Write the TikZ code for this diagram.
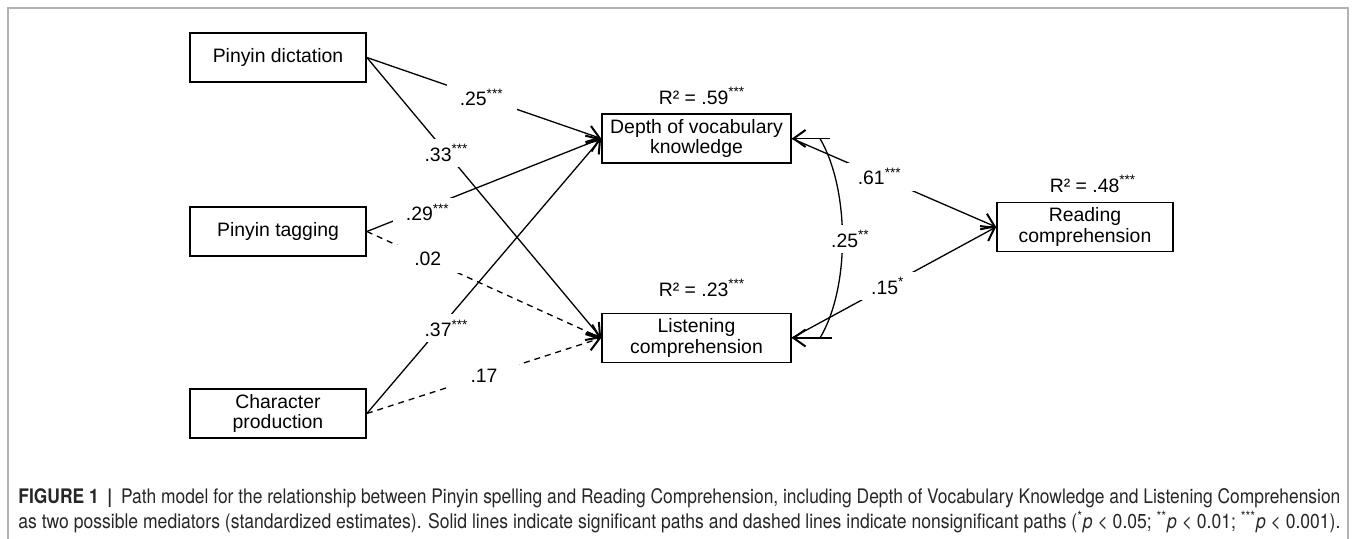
\documentclass[tikz,border=0pt]{standalone}
\usepackage{fontspec}
\setmainfont{Liberation Sans}
\newfontfamily\capfont{TeX Gyre Heros}
\usetikzlibrary{arrows.meta}
\newcommand{\nfont}{\fontsize{9.7}{10.4}\selectfont}
\newcommand{\st}[1]{\textsuperscript{#1}}
\begin{document}
\begin{tikzpicture}[x=0.5pt,y=-0.5pt,
  box/.style={draw, line width=0.85pt, minimum width=88pt, minimum height=24.5pt, inner sep=0pt, align=center, font=\nfont},
  wbox/.style={box, minimum width=94.5pt},
  lab/.style={fill=white, inner sep=0pt, minimum width=35pt, minimum height=14pt, font=\nfont},
  rlab/.style={inner sep=0pt, font=\nfont},
  arr/.style={line width=0.65pt, -{Straight Barb[length=6pt,width=8.5pt,line width=1pt]}},
  darr/.style={arr, dash pattern=on 3pt off 2.5pt},
  plain/.style={line width=0.65pt}]
\useasboundingbox (0,0) rectangle (1357,539);
% frame
\draw[gray!60, line width=0.6pt] (8,539) -- (8,8) -- (1348,8) -- (1348,539);
% boxes
\node[box] (dict) at (278,57.5) {Pinyin dictation};
\node[box] (tag) at (278,231.5) {Pinyin tagging};
\node[box] (char) at (278,413.5) {Character\\production};
\node[wbox] (dep) at (696.5,138.5) {Depth of vocabulary\\knowledge};
\node[wbox] (lis) at (696.5,338) {Listening\\comprehension};
\node[box] (read) at (1085,227) {Reading\\comprehension};
% R2 labels
\node[rlab] (r1) at (702,96) {R² = .59\st{***}};
\node[rlab] (r2) at (702,288) {R² = .23\st{***}};
\node[rlab] (r3) at (1093,184) {R² = .48\st{***}};
% paths
\draw[arr] (dict.east) -- (dep.west) node[lab, pos=0.49] {.25\st{***}};
\draw[arr] (dict.east) -- (lis.west) node[lab, pos=0.34] {.33\st{***}};
\draw[arr] (tag.east) -- (dep.west) node[lab, pos=0.26, yshift=-2.5pt] {.29\st{***}};
\draw[darr] (tag.east) -- (lis.west) node[lab, pos=0.26] {.02};
\draw[arr] (char.east) -- (dep.west) node[lab, pos=0.31, xshift=3.5pt] {.37\st{***}};
\draw[darr] (char.east) -- (lis.west) node[lab, pos=0.5] {.17};
\draw[arr] (dep.east) -- (read.west) node[lab, pos=0.43] {.61\st{***}};
\draw[arr] (lis.east) -- (read.west) node[lab, pos=0.47] {.15\st{*}};
% covariance
\coordinate (ct) at (830,138.5);
\coordinate (cb) at (832,338);
\coordinate (ct2) at (820,138.5);
\coordinate (cb2) at (820,338);
\draw[arr] (ct) -- (dep.east);
\draw[arr] (cb) -- (lis.east);
\draw[plain] (ct2) .. controls (850,190) and (850,288) .. (cb2) node[lab, pos=0.5, xshift=4pt] {.25\st{**}};
% caption
\node[anchor=west, inner sep=0pt] (cap1) at (18,498) {\color{black!85}\scalebox{1}[1.15]{\resizebox{661pt}{!}{\capfont\textbf{FIGURE 1}\enspace\textbf{|}\enspace Path model for the relationship between Pinyin spelling and Reading Comprehension, including Depth of Vocabulary Knowledge and Listening Comprehension}}};
\node[anchor=west, inner sep=0pt] (cap2) at (18,522) {\color{black!85}\scalebox{1}[1.15]{\resizebox{661pt}{!}{\capfont as two possible mediators (standardized estimates). Solid lines indicate significant paths and dashed lines indicate nonsignificant paths (\st{*}\textit{p} < 0.05; \st{**}\textit{p} < 0.01; \st{***}\textit{p} < 0.001).}}};
\end{tikzpicture}
\end{document}
